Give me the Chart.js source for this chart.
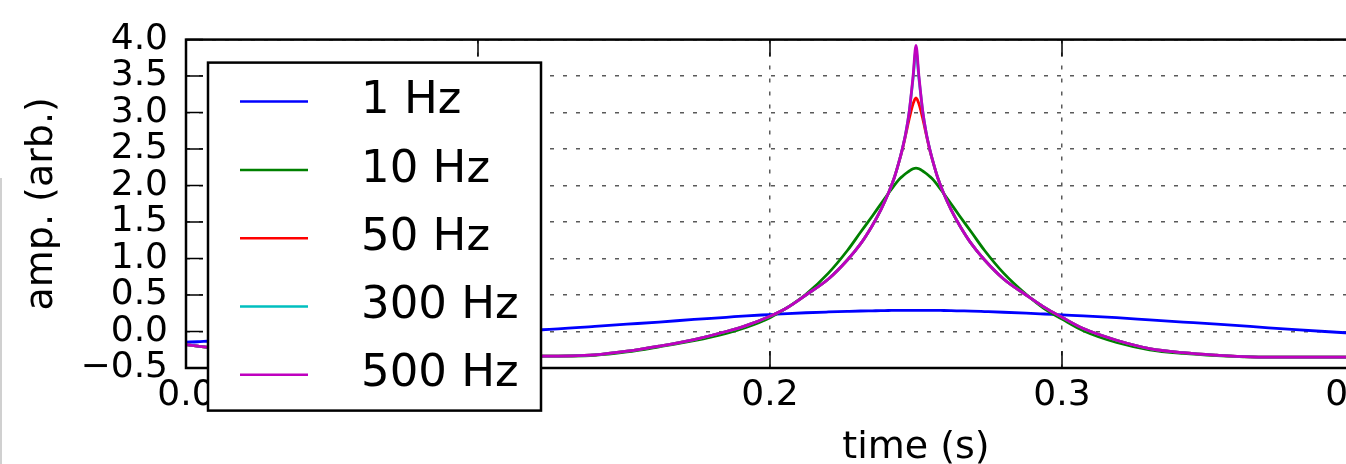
<!DOCTYPE html>
<html><head><meta charset="utf-8">
<script src="https://cdn.jsdelivr.net/npm/chart.js@4/dist/chart.umd.min.js"></script>
<style>
html,body{margin:0;padding:0;overflow:hidden;background:#fff;width:1346px;height:464px;}
#wrap{position:absolute;left:0;top:0;width:1700px;height:480px;}
#edge{position:absolute;left:0;top:178px;width:2px;height:286px;background:#d0d0d0;}
</style></head><body>
<div id="wrap"><canvas id="c" width="1700" height="480"></canvas></div>
<div id="edge"></div>
<script>
// time (s)
const times = [0, 0.004, 0.008, 0.03, 0.06, 0.09, 0.122, 0.14, 0.151, 0.162, 0.174, 0.185, 0.192, 0.2,
  0.206, 0.2123, 0.22, 0.2265, 0.231, 0.235, 0.238, 0.2405, 0.2425, 0.244, 0.2453, 0.2465, 0.2477, 0.249,
  0.25,
  0.251, 0.2523, 0.2535, 0.2547, 0.256, 0.2575, 0.2595, 0.262, 0.265, 0.269, 0.2735, 0.28, 0.2877, 0.294, 0.3,
  0.3073, 0.3187, 0.33, 0.3415, 0.353, 0.3644, 0.38, 0.3969, 0.4];

const amp1Hz = [-0.145, -0.14, -0.13, -0.1, -0.06, -0.02, 0.024, 0.07, 0.1, 0.13, 0.165, 0.195, 0.215, 0.232,
  0.245, 0.257, 0.268, 0.276, 0.281, 0.284, 0.286, 0.288, 0.289, 0.29, 0.29, 0.29, 0.29, 0.29,
  0.29,
  0.29, 0.29, 0.29, 0.29, 0.29, 0.289, 0.288, 0.286, 0.283, 0.279, 0.273, 0.264, 0.252, 0.24, 0.228,
  0.215, 0.19, 0.16, 0.13, 0.1, 0.069, 0.025, -0.017, -0.025];

const amp10Hz = [-0.18, -0.2, -0.22, -0.28, -0.315, -0.33, -0.338, -0.325, -0.28, -0.21, -0.125, -0.025, 0.06, 0.19,
  0.33, 0.51, 0.8, 1.11, 1.36, 1.58, 1.75, 1.89, 2.0, 2.075, 2.125, 2.165, 2.2, 2.23,
  2.24,
  2.23, 2.2, 2.165, 2.125, 2.075, 2.0, 1.89, 1.75, 1.58, 1.36, 1.11, 0.8, 0.51, 0.31, 0.17,
  0.01, -0.15, -0.25, -0.3, -0.33, -0.348, -0.352, -0.352, -0.352];

const amp50Hz = [-0.18, -0.2, -0.22, -0.28, -0.315, -0.33, -0.338, -0.32, -0.27, -0.2, -0.11, 0.0, 0.085, 0.21,
  0.33, 0.5, 0.72, 0.98, 1.2, 1.45, 1.67, 1.89, 2.1, 2.3, 2.49, 2.7, 2.92, 3.12,
  3.2,
  3.12, 2.92, 2.7, 2.49, 2.3, 2.1, 1.89, 1.67, 1.45, 1.2, 0.98, 0.72, 0.5, 0.33, 0.195,
  0.04, -0.12, -0.233, -0.29, -0.324, -0.347, -0.352, -0.352, -0.352];

const amp300Hz = [-0.18, -0.2, -0.22, -0.28, -0.315, -0.33, -0.338, -0.32, -0.27, -0.2, -0.11, 0.0, 0.085, 0.21,
  0.33, 0.5, 0.72, 0.98, 1.2, 1.45, 1.67, 1.89, 2.1, 2.3, 2.5, 2.72, 3.02, 3.47,
  3.85,
  3.47, 3.02, 2.72, 2.5, 2.3, 2.1, 1.89, 1.67, 1.45, 1.2, 0.98, 0.72, 0.5, 0.33, 0.195,
  0.04, -0.12, -0.233, -0.29, -0.324, -0.347, -0.352, -0.352, -0.352];

const amp500Hz = [-0.18, -0.2, -0.22, -0.28, -0.315, -0.33, -0.338, -0.32, -0.27, -0.2, -0.11, 0.0, 0.085, 0.21,
  0.33, 0.5, 0.72, 0.98, 1.2, 1.45, 1.67, 1.89, 2.1, 2.3, 2.5, 2.72, 3.02, 3.5,
  3.92,
  3.5, 3.02, 2.72, 2.5, 2.3, 2.1, 1.89, 1.67, 1.45, 1.2, 0.98, 0.72, 0.5, 0.33, 0.195,
  0.04, -0.12, -0.233, -0.29, -0.324, -0.347, -0.352, -0.352, -0.352];

const seriesLabels = ['1 Hz', '10 Hz', '50 Hz', '300 Hz', '500 Hz'];
const seriesColors = ['#0000ff', '#008000', '#ff0000', '#00bfbf', '#bf00bf'];
const seriesValues = [amp1Hz, amp10Hz, amp50Hz, amp300Hz, amp500Hz];

const xTickLabels = ['0.0', '0.1', '0.2', '0.3', '0.4', '0.5'];
const yTickLabels = ['\u22120.5', '0.0', '0.5', '1.0', '1.5', '2.0', '2.5', '3.0', '3.5', '4.0'];

const FONT = 'DejaVu Sans';

const datasets = seriesLabels.map((lab, i) => ({
  label: lab,
  data: times.map((t, k) => ({x: t, y: seriesValues[i][k]})),
  borderColor: seriesColors[i],
  backgroundColor: seriesColors[i],
  borderWidth: 2.8,
  pointRadius: 0,
  fill: false,
  cubicInterpolationMode: 'monotone',
  order: seriesLabels.length - i
}));

const framePlugin = {
  id: 'framePlugin',
  afterDatasetsDraw(chart) {
    const {ctx, chartArea: a, scales} = chart;
    ctx.save();
    ctx.strokeStyle = '#000';
    ctx.lineWidth = 1.5;
    const tl = 17;
    scales.x.ticks.forEach(t => {
      const px = scales.x.getPixelForValue(t.value);
      ctx.beginPath();
      ctx.moveTo(px, a.bottom); ctx.lineTo(px, a.bottom - tl);
      ctx.moveTo(px, a.top); ctx.lineTo(px, a.top + tl);
      ctx.stroke();
    });
    scales.y.ticks.forEach(t => {
      const py = scales.y.getPixelForValue(t.value);
      ctx.beginPath();
      ctx.moveTo(a.left, py); ctx.lineTo(a.left + tl, py);
      ctx.moveTo(a.right, py); ctx.lineTo(a.right - tl, py);
      ctx.stroke();
    });
    ctx.lineWidth = 2.5;
    ctx.strokeRect(a.left, a.top, a.right - a.left, a.bottom - a.top);
    ctx.restore();
  },
  afterDraw(chart) {
    const {ctx, chartArea: a} = chart;
    const L = a.left + 22, T = a.top + 23, W = 333, H = 348;
    ctx.save();
    ctx.fillStyle = '#fff';
    ctx.fillRect(L, T, W, H);
    ctx.strokeStyle = '#000';
    ctx.lineWidth = 2.5;
    ctx.strokeRect(L, T, W, H);
    ctx.font = '45px "' + FONT + '"';
    ctx.textBaseline = 'middle';
    ctx.textAlign = 'left';
    chart.data.datasets.forEach((ds, i) => {
      const y = T + 39 + i * 68.3;
      ctx.strokeStyle = ds.borderColor;
      ctx.lineWidth = 2.5;
      ctx.beginPath();
      ctx.moveTo(L + 32, y); ctx.lineTo(L + 100, y);
      ctx.stroke();
      ctx.fillStyle = '#000';
      ctx.fillText(ds.label, L + 153, y);
    });
    ctx.restore();
  }
};

new Chart(document.getElementById('c'), {
  type: 'line',
  data: {datasets},
  options: {
    responsive: false,
    animation: false,
    devicePixelRatio: 1,
    layout: {padding: {top: 36, right: 54, left: 0, bottom: 0}},
    plugins: {legend: {display: false}, tooltip: {enabled: false}},
    scales: {
      x: {
        type: 'linear', min: 0, max: 0.5,
        afterFit: s => { s.height = 112; },
        ticks: {stepSize: 0.1, autoSkip: false, maxRotation: 0, padding: 6, color: '#000',
          font: {family: FONT, size: 36}, callback: (v, i) => xTickLabels[i]},
        grid: {color: 'rgba(0,0,0,0.65)', lineWidth: 1.5, drawTicks: false},
        border: {display: false, dash: [4, 9]},
        title: {display: true, text: 'time (s)', color: '#000', font: {family: FONT, size: 38},
          padding: {top: 0, bottom: 9}}
      },
      y: {
        type: 'linear', min: -0.5, max: 4.0,
        afterFit: s => { s.width = 186; },
        ticks: {stepSize: 0.5, autoSkip: false, padding: 18, color: '#000',
          font: {family: FONT, size: 36}, callback: (v, i) => yTickLabels[i]},
        grid: {color: 'rgba(0,0,0,0.65)', lineWidth: 1.5, drawTicks: false},
        border: {display: false, dash: [4, 9]},
        title: {display: true, text: 'amp. (arb.)', color: '#000', font: {family: FONT, size: 38},
          padding: {top: 19, bottom: 0}}
      }
    }
  },
  plugins: [framePlugin]
});
</script>
</body></html>
